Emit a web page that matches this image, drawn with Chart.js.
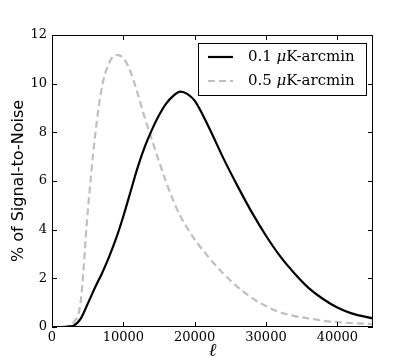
<!DOCTYPE html>
<html>
<head>
<meta charset="utf-8">
<script src="https://cdn.jsdelivr.net/npm/chart.js@4.4.0/dist/chart.umd.min.js"></script>
<style>
  body { margin: 0; background: #fff; }
  #wrap { width: 415px; height: 363px; }
</style>
</head>
<body>
<div id="wrap"><canvas id="snrChart" width="415" height="363"></canvas></div>
<script>
// multipole values (ell) where the curves were read
var ell = [0, 1000, 2000, 3000, 4000, 5000, 6000, 7000, 8000, 9000, 10000,
    11000, 12000, 13000, 14000, 15000, 16000, 17000, 18000, 19000, 20000,
    22000, 24000, 26000, 28000, 30000, 32000, 34000, 36000, 38000, 40000, 42000, 45000];

// % of signal-to-noise, 0.1 uK-arcmin
var snr01 = [0, 0, 0.01, 0.05, 0.33, 0.95, 1.6, 2.2, 2.88, 3.65, 4.55,
    5.55, 6.55, 7.4, 8.1, 8.7, 9.18, 9.5, 9.67, 9.57, 9.3,
    8.2, 6.95, 5.8, 4.72, 3.75, 2.9, 2.2, 1.6, 1.15, 0.8, 0.56, 0.35];

// % of signal-to-noise, 0.5 uK-arcmin
var snr05 = [0, 0, 0.02, 0.18, 1.0, 4.7, 7.75, 9.86, 10.85, 11.18, 11.05,
    10.5, 9.6, 8.6, 7.7, 6.8, 5.95, 5.2, 4.55, 4.05, 3.6,
    2.85, 2.2, 1.65, 1.2, 0.86, 0.6, 0.45, 0.35, 0.26, 0.2, 0.16, 0.12];

var xTicks = [0, 10000, 20000, 30000, 40000];
var yTicks = [0, 2, 4, 6, 8, 10, 12];

function pts(ys) {
    return ell.map(function (x, i) { return { x: x, y: ys[i] }; });
}

var serif = "'DejaVu Serif', serif";

// frame, inward ticks, axis titles and legend drawn like the matplotlib original
var framePlugin = {
    id: 'frame',
    afterDraw: function (chart) {
        var ctx = chart.ctx;
        var a = chart.chartArea;
        var xs = chart.scales.x, ys = chart.scales.y;
        ctx.save();
        ctx.strokeStyle = '#000';
        ctx.lineWidth = 1;
        ctx.strokeRect(a.left + 0.5, a.top + 0.5, a.right - a.left - 1, a.bottom - a.top - 1);
        xTicks.forEach(function (t) {
            var px = Math.round(xs.getPixelForValue(t)) + 0.5;
            ctx.beginPath();
            ctx.moveTo(px, a.bottom); ctx.lineTo(px, a.bottom - 5);
            ctx.moveTo(px, a.top); ctx.lineTo(px, a.top + 5);
            ctx.stroke();
        });
        yTicks.forEach(function (t) {
            var py = Math.round(ys.getPixelForValue(t)) + 0.5;
            ctx.beginPath();
            ctx.moveTo(a.left, py); ctx.lineTo(a.left + 5, py);
            ctx.moveTo(a.right, py); ctx.lineTo(a.right - 5, py);
            ctx.stroke();
        });

        // axis titles
        ctx.fillStyle = '#000';
        ctx.textAlign = 'center';
        ctx.textBaseline = 'middle';
        ctx.font = "italic 18px " + serif;
        ctx.fillText('\u2113', (a.left + a.right) / 2, 351);
        ctx.save();
        ctx.translate(19, (a.top + a.bottom) / 2);
        ctx.rotate(-Math.PI / 2);
        ctx.font = "16px 'DejaVu Sans', sans-serif";
        ctx.fillText('% of Signal-to-Noise', 0, 0);
        ctx.restore();

        // legend
        var lx = 198, ly = 43, lw = 168, lh = 52;
        ctx.fillStyle = '#fff';
        ctx.fillRect(lx, ly, lw, lh);
        ctx.strokeStyle = '#000';
        ctx.strokeRect(lx + 0.5, ly + 0.5, lw, lh);
        chart.data.datasets.forEach(function (ds, i) {
            var yy = ly + 14 + i * 24;
            ctx.beginPath();
            ctx.strokeStyle = ds.borderColor;
            ctx.lineWidth = ds.borderWidth;
            ctx.setLineDash(ds.borderDash || []);
            ctx.moveTo(lx + 10, yy); ctx.lineTo(lx + 35, yy);
            ctx.stroke();
            ctx.setLineDash([]);
            ctx.fillStyle = '#000';
            ctx.textAlign = 'left';
            var parts = ds.label.split('\u03bc');
            var tx = lx + 50;
            ctx.font = "15px " + serif;
            ctx.fillText(parts[0], tx, yy);
            tx += ctx.measureText(parts[0]).width;
            ctx.font = "italic 15px " + serif;
            ctx.fillText('\u03bc', tx, yy);
            tx += ctx.measureText('\u03bc').width;
            ctx.font = "15px " + serif;
            ctx.fillText(parts[1], tx, yy);
        });
        ctx.restore();
    }
};

new Chart(document.getElementById('snrChart').getContext('2d'), {
    type: 'line',
    data: {
        datasets: [{
            label: '0.1 \u03bcK-arcmin',
            data: pts(snr01),
            borderColor: '#000000',
            borderWidth: 2.2,
            pointRadius: 0,
            cubicInterpolationMode: 'monotone',
            fill: false
        }, {
            label: '0.5 \u03bcK-arcmin',
            data: pts(snr05),
            borderColor: '#bfbfbf',
            borderWidth: 2.2,
            borderDash: [7, 4],
            pointRadius: 0,
            cubicInterpolationMode: 'monotone',
            fill: false
        }]
    },
    options: {
        responsive: false,
        animation: false,
        layout: { padding: { top: 35, right: 42, left: 0, bottom: 0 } },
        plugins: {
            legend: { display: false },
            tooltip: { enabled: false }
        },
        scales: {
            x: {
                type: 'linear',
                min: 0,
                max: 45000,
                afterFit: function (s) { s.height = 36; },
                afterBuildTicks: function (s) { s.ticks = xTicks.map(function (v) { return { value: v }; }); },
                grid: { display: false, drawTicks: false },
                border: { display: false },
                ticks: {
                    color: '#000',
                    padding: 3,
                    maxRotation: 0,
                    font: { family: serif, size: 13 },
                    callback: function (v) { return String(v); }
                }
            },
            y: {
                min: 0,
                max: 12,
                afterFit: function (s) { s.width = 52; },
                afterBuildTicks: function (s) { s.ticks = yTicks.map(function (v) { return { value: v }; }); },
                grid: { display: false, drawTicks: false },
                border: { display: false },
                ticks: {
                    color: '#000',
                    padding: 5,
                    font: { family: serif, size: 13 }
                }
            }
        }
    },
    plugins: [framePlugin]
});
</script>
</body>
</html>
